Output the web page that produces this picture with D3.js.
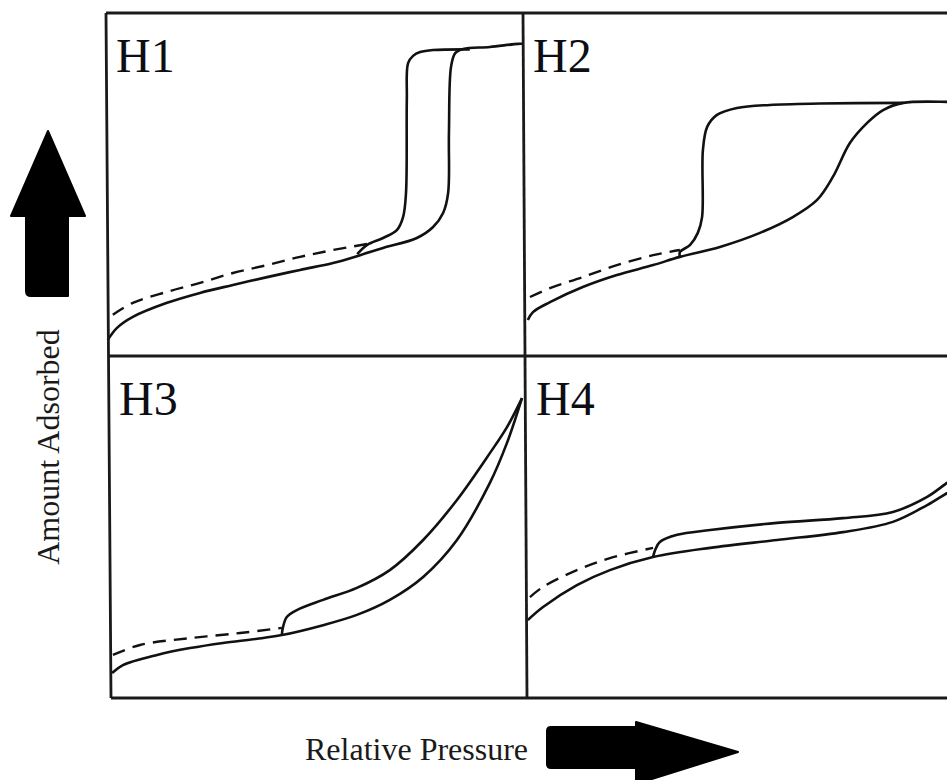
<!DOCTYPE html>
<html>
<head>
<meta charset="utf-8">
<script src="https://cdn.jsdelivr.net/npm/d3@7"></script>
<style>
  body { margin: 0; background: #fff; }
  svg { display: block; }
</style>
</head>
<body>
<div id="chart"></div>
<script>
/* hysteresis loop types H1..H4
   x = relative pressure (0..1), y = amount adsorbed (0..1 of panel) */

var panelNames = ['H1', 'H2', 'H3', 'H4'];

var h1Ads = [[0.002,0.047],[0.024,0.082],[0.062,0.114],[0.144,0.155],[0.223,0.184],[0.302,0.207],[0.384,0.230],[0.463,0.251],[0.542,0.271],[0.607,0.294],[0.662,0.315],[0.743,0.344],[0.782,0.376],[0.806,0.417],[0.818,0.475],[0.820,0.650],[0.825,0.843],[0.835,0.883],[0.854,0.895],[0.918,0.901],[0.986,0.910],[0.998,0.910]];
var h1Des = [[0.870,0.894],[0.782,0.892],[0.751,0.886],[0.734,0.875],[0.722,0.854],[0.719,0.746],[0.717,0.475],[0.710,0.405],[0.695,0.367],[0.662,0.344],[0.624,0.324],[0.600,0.297]];
var h1Low = [[0.014,0.120],[0.062,0.155],[0.144,0.187],[0.223,0.213],[0.302,0.242],[0.384,0.265],[0.463,0.289],[0.542,0.309],[0.626,0.327]];

var h2Ads = [[0.009,0.105],[0.021,0.128],[0.061,0.157],[0.138,0.201],[0.218,0.236],[0.303,0.265],[0.366,0.289],[0.460,0.318],[0.554,0.359],[0.631,0.405],[0.688,0.455],[0.725,0.522],[0.765,0.621],[0.805,0.679],[0.843,0.717],[0.890,0.738],[0.993,0.741],[1.0,0.741]];
var h2Des = [[0.890,0.738],[0.695,0.736],[0.577,0.732],[0.500,0.723],[0.453,0.703],[0.430,0.668],[0.420,0.601],[0.418,0.405],[0.408,0.359],[0.390,0.324],[0.366,0.303],[0.366,0.289]];
var h2Low = [[0.014,0.172],[0.061,0.198],[0.138,0.230],[0.218,0.265],[0.303,0.294],[0.366,0.309]];

var h3Ads = [[0.005,0.073],[0.031,0.096],[0.113,0.126],[0.192,0.146],[0.271,0.161],[0.353,0.173],[0.412,0.184],[0.511,0.213],[0.592,0.243],[0.671,0.287],[0.751,0.354],[0.832,0.462],[0.911,0.629],[0.952,0.746],[0.988,0.877]];
var h3Des = [[0.988,0.877],[0.952,0.792],[0.911,0.716],[0.832,0.579],[0.751,0.462],[0.671,0.374],[0.592,0.322],[0.511,0.287],[0.448,0.257],[0.424,0.237],[0.415,0.208],[0.412,0.184]];
var h3Low = [[0.007,0.126],[0.072,0.155],[0.192,0.175],[0.312,0.190],[0.412,0.205]];

var h4Ads = [[0.002,0.228],[0.038,0.266],[0.118,0.330],[0.196,0.374],[0.298,0.412],[0.433,0.439],[0.591,0.462],[0.747,0.485],[0.865,0.515],[0.946,0.564],[0.993,0.599],[1.0,0.603]];
var h4Des = [[1.0,0.634],[0.993,0.629],[0.946,0.588],[0.865,0.544],[0.747,0.526],[0.591,0.512],[0.433,0.491],[0.355,0.477],[0.314,0.456],[0.303,0.433],[0.298,0.412]];
var h4Low = [[0.007,0.295],[0.038,0.325],[0.118,0.374],[0.196,0.409],[0.298,0.439]];

var xLabel = 'Relative Pressure',
yLabel = 'Amount Adsorbed';

var w = 947,
h = 780;

// panel boxes (pixels)
var panels = [
  { name: panelNames[0], x0: 107, x1: 524, y0: 13, y1: 356, ads: h1Ads, des: h1Des, low: h1Low },
  { name: panelNames[1], x0: 524, x1: 950, y0: 13, y1: 356, ads: h2Ads, des: h2Des, low: h2Low },
  { name: panelNames[2], x0: 110, x1: 527, y0: 356, y1: 698, ads: h3Ads, des: h3Des, low: h3Low },
  { name: panelNames[3], x0: 527, x1: 950, y0: 356, y1: 698, ads: h4Ads, des: h4Des, low: h4Low }];

var svg = d3.select('#chart').
append('svg').
attr('width', w).
attr('height', h);

var ink = '#111';

panels.forEach(function (p) {
  var x = d3.scaleLinear().domain([0, 1]).range([p.x0, p.x1]);
  var y = d3.scaleLinear().domain([0, 1]).range([p.y1, p.y0]);
  var line = d3.line().
  x(d => x(d[0])).
  y(d => y(d[1])).
  curve(d3.curveCatmullRom.alpha(0.5));

  var g = svg.append('g').attr('class', 'panel');

  g.append('path').datum(p.ads).
  attr('d', line).
  attr('fill', 'none').
  attr('stroke', ink).
  attr('stroke-width', 2.6);

  g.append('path').datum(p.des).
  attr('d', line).
  attr('fill', 'none').
  attr('stroke', ink).
  attr('stroke-width', 2.6);

  g.append('path').datum(p.low).
  attr('d', line).
  attr('fill', 'none').
  attr('stroke', ink).
  attr('stroke-width', 2.4).
  attr('stroke-dasharray', '13,8');

  g.append('text').
  attr('x', p.x0 + 9).
  attr('y', p.y0 + 59).
  attr('font-family', '"Liberation Serif", "DejaVu Serif", serif').
  attr('font-size', 48).
  attr('fill', '#0d0d14').
  text(p.name);
});

// frame
var frame = svg.append('g').
attr('stroke', '#1a1a1a').
attr('stroke-width', 2.8).
attr('fill', 'none');

frame.append('path').attr('d', 'M106,13 L952,13 M111,698 L952,698 M106,13 L111,698');
frame.append('path').attr('d', 'M523,13 L527,698');
frame.append('path').attr('d', 'M108,356 L952,356');

// axis labels
svg.append('text').
attr('x', 305).
attr('y', 760).
attr('font-family', '"Liberation Serif", serif').
attr('font-size', 32).
attr('fill', '#1a1a1a').
text(xLabel);

svg.append('text').
attr('transform', 'translate(59,447) rotate(-90)').
attr('text-anchor', 'middle').
attr('font-family', '"Liberation Serif", serif').
attr('font-size', 32).
attr('fill', '#1a1a1a').
text(yLabel);

// arrows
svg.append('path').
attr('d', 'M48,131 L85,216 L68,216 L68,296 L31,296 Q26,296 26,291 L26,216 L11,216 Z').
attr('fill', '#000').
attr('stroke', '#000').
attr('stroke-width', 2).
attr('stroke-linejoin', 'round');

svg.append('path').
attr('d', 'M551,727 L636,727 L636,722 L738,752 L636,784 L636,768 L551,768 Q547,768 547,764 L547,731 Q547,727 551,727 Z').
attr('fill', '#000').
attr('stroke', '#000').
attr('stroke-width', 2).
attr('stroke-linejoin', 'round');
</script>
</body>
</html>
